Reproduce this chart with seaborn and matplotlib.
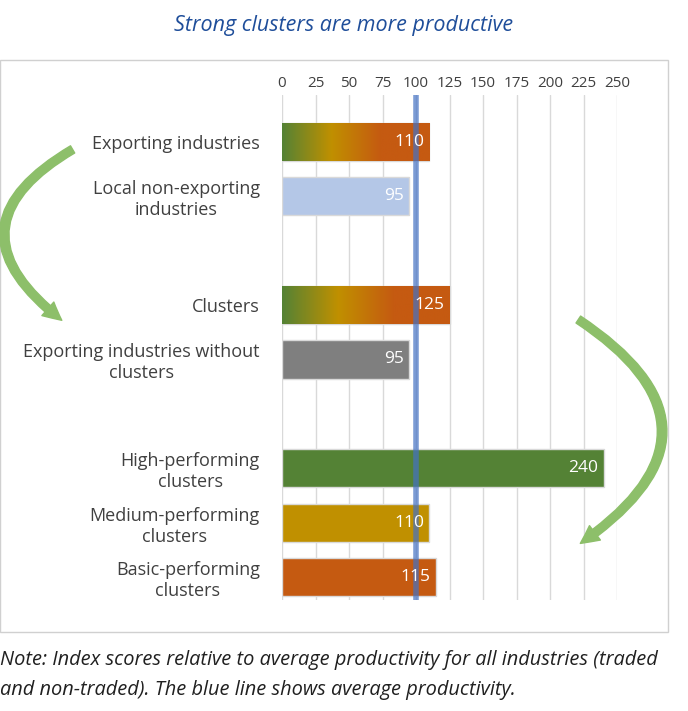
import numpy as np
import matplotlib
matplotlib.use("Agg")
import matplotlib.pyplot as plt
import seaborn as sns
import pandas as pd
from matplotlib.patches import FancyArrowPatch, Rectangle
from matplotlib.colors import LinearSegmentedColormap

categories = ["Exporting industries", "Local non-exporting\nindustries",
              "Clusters", "Exporting industries without\nclusters",
              "High-performing\nclusters", "Medium-performing\nclusters",
              "Basic-performing\nclusters"]
values = [110, 95, 125, 95, 240, 110, 115]
positions = [0, 1, 3, 4, 6, 7, 8]
colors = ["#548235", "#B4C7E7", "#548235", "#7F7F7F", "#548235", "#C09000", "#C55A11"]
gradient = [True, False, True, False, False, False, False]
ticks = list(range(0, 251, 25))

sns.set_style("white")
plt.rcParams['font.family'] = ['Open Sans', 'DejaVu Sans']

fig = plt.figure(figsize=(6.88, 7.11), dpi=100)
ax = fig.add_axes([282/688, 1-600/711, 335/688, 505/711])

df = pd.DataFrame({"pos": positions, "val": values, "cat": categories})
sns.barplot(data=df, x="val", y="pos", orient="h", native_scale=True,
            hue="pos", palette=dict(zip(positions, colors)), legend=False,
            saturation=1, width=0.7, ax=ax, zorder=2)

cmap = LinearSegmentedColormap.from_list("g", ["#548235", "#C09000", "#C55A11", "#C55A11"])
for patch, g in zip(ax.patches, gradient):
    patch.set_edgecolor("#D9D9D9")
    patch.set_linewidth(1)
    if g:
        x0, y0 = patch.get_x(), patch.get_y()
        w, h = patch.get_width(), patch.get_height()
        im = ax.imshow(np.linspace(0, 1, 256).reshape(1, -1), cmap=cmap, aspect="auto",
                       extent=[x0, x0 + w, y0 + h, y0], zorder=2.5)
        im.set_clip_path(patch)

for p, v in zip(positions, values):
    ax.text(v - 4, p, str(v), color="white", ha="right", va="center", fontsize=12.5, zorder=4)

ax.axvline(100, color="#4472C4", alpha=0.7, lw=4, zorder=3)

ax.set_xlim(0, 250)
ax.set_ylim(8.42, -0.86)
ax.set_xticks(ticks)
ax.xaxis.tick_top()
ax.tick_params(axis="x", length=0, labelsize=11, labelcolor="#404040", pad=3)
ax.grid(axis="x", color="#D9D9D9", lw=1, zorder=0)
ax.set_yticks(positions)
ax.set_yticklabels(categories, fontsize=13, color="#404040", ha="right", multialignment="center")
ax.tick_params(axis="y", length=0, pad=16)
ax.set_xlabel("")
ax.set_ylabel("")
for s in ax.spines.values():
    s.set_visible(False)

fig.patches.append(Rectangle((0, 1-632/711), 668/688, 572/711, transform=fig.transFigure,
                             fill=False, edgecolor="#D0D0D0", lw=1))

fig.text(0.5, 1-25/711, "Strong clusters are more productive", ha="center", va="center",
         fontsize=15.5, style="italic", color="#1F4E9A")
fig.text(0.0, 1-660/711, "Note: Index scores relative to average productivity for all industries (traded",
         ha="left", va="center", fontsize=14.4, style="italic", color="#202020")
fig.text(0.0, 1-690/711, "and non-traded). The blue line shows average productivity.",
         ha="left", va="center", fontsize=14.4, style="italic", color="#202020")

def fpx(x, y):
    return (x/688, 1-y/711)

a1 = FancyArrowPatch(fpx(75, 148), fpx(64, 322), connectionstyle="arc3,rad=0.75",
                     arrowstyle="simple,head_width=13,head_length=13,tail_width=6",
                     color="#8DBF6A", transform=fig.transFigure)
a2 = FancyArrowPatch(fpx(576, 318), fpx(578, 545), connectionstyle="arc3,rad=-0.75",
                     arrowstyle="simple,head_width=13,head_length=13,tail_width=6",
                     color="#8DBF6A", transform=fig.transFigure)
fig.patches.extend([a1, a2])

fig.savefig("out.png", dpi=100)
